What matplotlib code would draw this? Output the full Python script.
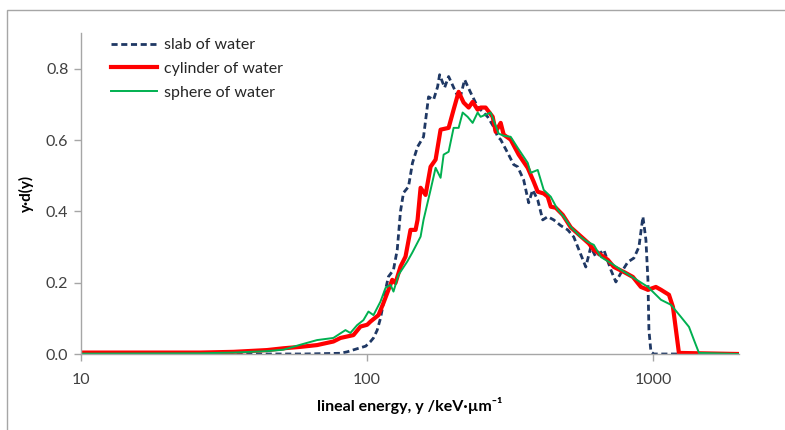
import matplotlib
matplotlib.use("Agg")
import matplotlib.pyplot as plt
from matplotlib.patches import Rectangle

## values (lineal energy in keV/um, y*d(y))
slab_x = [10, 21.2, 40, 60, 70, 80.8, 85.2, 92.6, 99, 102.9, 105.4, 108.6, 111.5, 114.2, 116.1,
          118.9, 121, 123.8, 127.6, 131.0, 134.2, 139.7, 144.3, 150.3, 157.7, 164.2, 171.0, 176.6,
          179.5, 186.9, 193.0, 204.2, 210.9, 219.6, 230.4, 243.8, 249.7, 264.3, 277.4, 286.5, 293.5,
          310.5, 325.9, 336.6, 353.2, 367.7, 379.8, 395.5, 411.8, 428.7, 450.0, 476.1, 503.8, 528.8,
          546.1, 582.4, 606.4, 631.5, 673.6, 712.7, 742.0, 772.6, 817.4, 858.0, 893.3, 922.6, 945.2,
          960.6, 968.4, 984.2, 1008, 2000]
slab_y = [0.0, 0.0, 0.0, 0.0, 0.001, 0.002, 0.006, 0.015, 0.022, 0.035, 0.045, 0.067, 0.10, 0.143, 0.18,
          0.217, 0.225, 0.236, 0.292, 0.40, 0.452, 0.469, 0.536, 0.581, 0.609, 0.721, 0.713, 0.749,
          0.783, 0.747, 0.778, 0.735, 0.713, 0.769, 0.733, 0.693, 0.685, 0.665, 0.637, 0.609, 0.601,
          0.564, 0.531, 0.525, 0.488, 0.424, 0.460, 0.432, 0.376, 0.385, 0.376, 0.360, 0.348, 0.328,
          0.300, 0.244, 0.300, 0.272, 0.292, 0.236, 0.202, 0.227, 0.258, 0.269, 0.300, 0.385, 0.320,
          0.208, 0.067, 0.006, 0.0, 0.0]

cyl_x = [10, 26.1, 34.1, 44.7, 51.0, 58.5, 66.9, 76.3, 80.8, 89.7, 94.9, 100.2, 102.9, 109.7, 114.2,
         118.9, 122.6, 125.8, 131.0, 136.4, 142.0, 147.9, 150.3, 154.0, 160.3, 166.9, 173.8, 180.9,
         193.0, 200.9, 209.2, 217.8, 226.8, 234.2, 243.8, 249.7, 260.0, 275.2, 281.9, 293.5, 300.7,
         318.1, 339.3, 364.8, 382.9, 395.5, 415.1, 428.7, 439.3, 457.3, 483.9, 516.1, 550.5, 596.7,
         621.3, 657.5, 695.7, 730.1, 791.5, 851.1, 907.8, 960.6, 1024, 1067, 1138, 1175, 1204, 1233,
         2000]
cyl_y = [0.004, 0.004, 0.006, 0.011, 0.016, 0.020, 0.025, 0.035, 0.045, 0.053, 0.077, 0.082, 0.091, 0.109,
         0.143, 0.180, 0.208, 0.199, 0.245, 0.273, 0.348, 0.348, 0.376, 0.466, 0.446, 0.525, 0.545, 0.629,
         0.634, 0.685, 0.735, 0.705, 0.691, 0.707, 0.685, 0.691, 0.691, 0.665, 0.623, 0.648, 0.615,
         0.601, 0.559, 0.522, 0.483, 0.455, 0.450, 0.441, 0.413, 0.410, 0.390, 0.355, 0.335, 0.310,
         0.292, 0.278, 0.264, 0.244, 0.230, 0.216, 0.188, 0.180, 0.188, 0.180, 0.166, 0.132, 0.067, 0.003,
         0.0]

sph_x = [10, 26.1, 34.1, 44.7, 51.0, 58.5, 66.9, 76.3, 84.1, 87.5, 92.4, 97.2, 101.2, 105.4, 111.5,
         116.1, 120.9, 123.8, 128.9, 138.3, 144.0, 154.0, 157.7, 166.9, 173.8, 180.9, 185.4, 193.0,
         200.9, 209.2, 216.1, 224.9, 234.2, 243.8, 249.7, 270.8, 288.8, 300.7, 318.1, 336.6, 364.8,
         373.7, 395.5, 415.1, 439.3, 464.8, 487.8, 516.1, 559.4, 591.9, 621.3, 657.5, 712.7, 772.6,
         858.0, 960.6, 1067, 1156, 1253, 1337, 1392, 1449, 2000]
sph_y = [0.001, 0.002, 0.004, 0.008, 0.012, 0.026, 0.039, 0.045, 0.067, 0.059, 0.081, 0.095, 0.119, 0.109,
         0.147, 0.185, 0.194, 0.175, 0.222, 0.259, 0.284, 0.329, 0.376, 0.460, 0.522, 0.494, 0.559, 0.567,
         0.634, 0.634, 0.677, 0.665, 0.648, 0.677, 0.665, 0.677, 0.618, 0.612, 0.609, 0.578, 0.536,
         0.508, 0.516, 0.460, 0.441, 0.404, 0.385, 0.356, 0.328, 0.314, 0.306, 0.272, 0.255, 0.236,
         0.213, 0.188, 0.152, 0.138, 0.104, 0.076, 0.039, 0.003, 0.0]

labels = ["slab of water", "cylinder of water", "sphere of water"]
y_ticks = [0.0, 0.2, 0.4, 0.6, 0.8]
x_ticks = [10, 100, 1000]

plt.rcParams["font.family"] = ["Lato", "DejaVu Sans"]

fig = plt.figure(figsize=(7.85, 4.30), dpi=100)
# outer chart frame (only top/left edges visible in the crop)
fig.patches.append(Rectangle((7 / 785., -0.05), 1.2, (430 - 10) / 430. + 0.05, transform=fig.transFigure,
                             fill=False, edgecolor="#a6a6a6", linewidth=1.0))

ax = fig.add_axes([81 / 785., 76 / 430., 658 / 785., 321 / 430.])
ax.plot(slab_x, slab_y, color="#1f3864", linestyle=(0, (2.2, 1.3)), linewidth=2.0, label=labels[0])
ax.plot(cyl_x, cyl_y, color="#ff0000", linewidth=3.0, label=labels[1])
ax.plot(sph_x, sph_y, color="#00b050", linewidth=1.4, label=labels[2])

ax.set_xscale("log")
ax.set_xlim(10, 2000)
ax.set_ylim(0, 0.9)
ax.set_xticks(x_ticks)
ax.set_xticklabels([str(v) for v in x_ticks])
ax.xaxis.set_minor_locator(matplotlib.ticker.NullLocator())
ax.set_yticks(y_ticks)
ax.set_yticklabels(["%.1f" % v for v in y_ticks])

for side in ("top", "right"):
    ax.spines[side].set_visible(False)
for side in ("left", "bottom"):
    ax.spines[side].set_color("#a6a6a6")
    ax.spines[side].set_linewidth(1.0)
ax.tick_params(axis="both", colors="#a6a6a6", labelcolor="#404040", labelsize=11.5, length=5, width=1.0)
ax.tick_params(axis="x", pad=9)
ax.tick_params(axis="y", pad=4)

ax.set_xlabel("lineal energy, y /keV\u00b7\u00b5m\u207b\u00b9", fontsize=11.5, fontweight="bold", labelpad=7)
ax.set_ylabel("y\u00b7d(y)", fontsize=11, fontweight="bold", labelpad=9)

leg = ax.legend(loc="upper left", bbox_to_anchor=(0.036, 1.004), frameon=False, fontsize=11.5,
                handlelength=2.9, handletextpad=0.4, labelspacing=0.6, borderaxespad=0.)
for t in leg.get_texts():
    t.set_color("#262626")

fig.savefig("out.png", dpi=100)
